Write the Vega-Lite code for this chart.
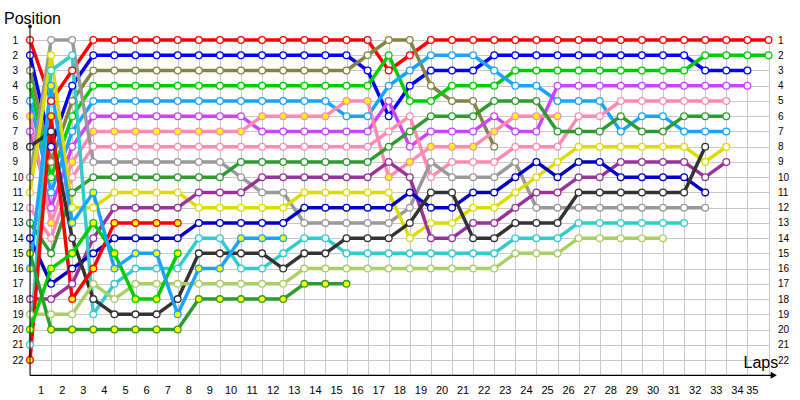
{
"$schema":"https://vega.github.io/schema/vega-lite/v6.json",
"width":738.5,"height":335.3,
"autosize":{"type":"none"},
"padding":{"left":30,"top":40,"right":31.5,"bottom":24.7},
"background":"white",
"title":{"text":"Position","anchor":"start","frame":"group","dx":-26,"dy":16,"offset":0,"baseline":"alphabetic","fontSize":16,"fontWeight":"normal","font":"Liberation Sans","color":"black"},
"config":{"view":{"stroke":null},"axis":{"labelFont":"Liberation Sans","titleFont":"Liberation Sans","labelColor":"black","titleColor":"black"}},
"data":{"values":[
{"d":"A","lap":0,"pos":1},{"d":"A","lap":1,"pos":5},{"d":"A","lap":2,"pos":3},{"d":"A","lap":3,"pos":1},{"d":"A","lap":4,"pos":1},{"d":"A","lap":5,"pos":1},{"d":"A","lap":6,"pos":1},{"d":"A","lap":7,"pos":1},{"d":"A","lap":8,"pos":1},{"d":"A","lap":9,"pos":1},{"d":"A","lap":10,"pos":1},{"d":"A","lap":11,"pos":1},{"d":"A","lap":12,"pos":1},{"d":"A","lap":13,"pos":1},{"d":"A","lap":14,"pos":1},{"d":"A","lap":15,"pos":1},{"d":"A","lap":16,"pos":1},{"d":"A","lap":17,"pos":3},{"d":"A","lap":18,"pos":2},{"d":"A","lap":19,"pos":1},{"d":"A","lap":20,"pos":1},{"d":"A","lap":21,"pos":1},{"d":"A","lap":22,"pos":1},{"d":"A","lap":23,"pos":1},{"d":"A","lap":24,"pos":1},{"d":"A","lap":25,"pos":1},{"d":"A","lap":26,"pos":1},{"d":"A","lap":27,"pos":1},{"d":"A","lap":28,"pos":1},{"d":"A","lap":29,"pos":1},{"d":"A","lap":30,"pos":1},{"d":"A","lap":31,"pos":1},{"d":"A","lap":32,"pos":1},{"d":"A","lap":33,"pos":1},{"d":"A","lap":34,"pos":1},{"d":"A","lap":35,"pos":1},
{"d":"B","lap":0,"pos":2},{"d":"B","lap":1,"pos":8},{"d":"B","lap":2,"pos":4},{"d":"B","lap":3,"pos":2},{"d":"B","lap":4,"pos":2},{"d":"B","lap":5,"pos":2},{"d":"B","lap":6,"pos":2},{"d":"B","lap":7,"pos":2},{"d":"B","lap":8,"pos":2},{"d":"B","lap":9,"pos":2},{"d":"B","lap":10,"pos":2},{"d":"B","lap":11,"pos":2},{"d":"B","lap":12,"pos":2},{"d":"B","lap":13,"pos":2},{"d":"B","lap":14,"pos":2},{"d":"B","lap":15,"pos":2},{"d":"B","lap":16,"pos":3},{"d":"B","lap":17,"pos":6},{"d":"B","lap":18,"pos":4},{"d":"B","lap":19,"pos":3},{"d":"B","lap":20,"pos":3},{"d":"B","lap":21,"pos":3},{"d":"B","lap":22,"pos":2},{"d":"B","lap":23,"pos":2},{"d":"B","lap":24,"pos":2},{"d":"B","lap":25,"pos":2},{"d":"B","lap":26,"pos":2},{"d":"B","lap":27,"pos":2},{"d":"B","lap":28,"pos":2},{"d":"B","lap":29,"pos":2},{"d":"B","lap":30,"pos":2},{"d":"B","lap":31,"pos":2},{"d":"B","lap":32,"pos":3},{"d":"B","lap":33,"pos":3},{"d":"B","lap":34,"pos":3},
{"d":"C","lap":0,"pos":3},{"d":"C","lap":1,"pos":9},{"d":"C","lap":2,"pos":5},{"d":"C","lap":3,"pos":3},{"d":"C","lap":4,"pos":3},{"d":"C","lap":5,"pos":3},{"d":"C","lap":6,"pos":3},{"d":"C","lap":7,"pos":3},{"d":"C","lap":8,"pos":3},{"d":"C","lap":9,"pos":3},{"d":"C","lap":10,"pos":3},{"d":"C","lap":11,"pos":3},{"d":"C","lap":12,"pos":3},{"d":"C","lap":13,"pos":3},{"d":"C","lap":14,"pos":3},{"d":"C","lap":15,"pos":3},{"d":"C","lap":16,"pos":2},{"d":"C","lap":17,"pos":1},{"d":"C","lap":18,"pos":1},{"d":"C","lap":19,"pos":4},{"d":"C","lap":20,"pos":5},{"d":"C","lap":21,"pos":5},{"d":"C","lap":22,"pos":8},
{"d":"D","lap":0,"pos":4},{"d":"D","lap":1,"pos":10},{"d":"D","lap":2,"pos":6},{"d":"D","lap":3,"pos":4},{"d":"D","lap":4,"pos":4},{"d":"D","lap":5,"pos":4},{"d":"D","lap":6,"pos":4},{"d":"D","lap":7,"pos":4},{"d":"D","lap":8,"pos":4},{"d":"D","lap":9,"pos":4},{"d":"D","lap":10,"pos":4},{"d":"D","lap":11,"pos":4},{"d":"D","lap":12,"pos":4},{"d":"D","lap":13,"pos":4},{"d":"D","lap":14,"pos":4},{"d":"D","lap":15,"pos":4},{"d":"D","lap":16,"pos":4},{"d":"D","lap":17,"pos":2},{"d":"D","lap":18,"pos":5},{"d":"D","lap":19,"pos":5},{"d":"D","lap":20,"pos":4},{"d":"D","lap":21,"pos":4},{"d":"D","lap":22,"pos":4},{"d":"D","lap":23,"pos":3},{"d":"D","lap":24,"pos":3},{"d":"D","lap":25,"pos":3},{"d":"D","lap":26,"pos":3},{"d":"D","lap":27,"pos":3},{"d":"D","lap":28,"pos":3},{"d":"D","lap":29,"pos":3},{"d":"D","lap":30,"pos":3},{"d":"D","lap":31,"pos":3},{"d":"D","lap":32,"pos":2},{"d":"D","lap":33,"pos":2},{"d":"D","lap":34,"pos":2},{"d":"D","lap":35,"pos":2},
{"d":"E","lap":0,"pos":5},{"d":"E","lap":1,"pos":11},{"d":"E","lap":2,"pos":7},{"d":"E","lap":3,"pos":5},{"d":"E","lap":4,"pos":5},{"d":"E","lap":5,"pos":5},{"d":"E","lap":6,"pos":5},{"d":"E","lap":7,"pos":5},{"d":"E","lap":8,"pos":5},{"d":"E","lap":9,"pos":5},{"d":"E","lap":10,"pos":5},{"d":"E","lap":11,"pos":5},{"d":"E","lap":12,"pos":5},{"d":"E","lap":13,"pos":5},{"d":"E","lap":14,"pos":5},{"d":"E","lap":15,"pos":6},{"d":"E","lap":16,"pos":6},{"d":"E","lap":17,"pos":4},{"d":"E","lap":18,"pos":3},{"d":"E","lap":19,"pos":2},{"d":"E","lap":20,"pos":2},{"d":"E","lap":21,"pos":2},{"d":"E","lap":22,"pos":3},{"d":"E","lap":23,"pos":4},{"d":"E","lap":24,"pos":4},{"d":"E","lap":25,"pos":5},{"d":"E","lap":26,"pos":5},{"d":"E","lap":27,"pos":5},{"d":"E","lap":28,"pos":7},{"d":"E","lap":29,"pos":6},{"d":"E","lap":30,"pos":6},{"d":"E","lap":31,"pos":7},{"d":"E","lap":32,"pos":7},{"d":"E","lap":33,"pos":7},
{"d":"F","lap":0,"pos":7},{"d":"F","lap":1,"pos":12},{"d":"F","lap":2,"pos":8},{"d":"F","lap":3,"pos":6},{"d":"F","lap":4,"pos":6},{"d":"F","lap":5,"pos":6},{"d":"F","lap":6,"pos":6},{"d":"F","lap":7,"pos":6},{"d":"F","lap":8,"pos":6},{"d":"F","lap":9,"pos":6},{"d":"F","lap":10,"pos":6},{"d":"F","lap":11,"pos":7},{"d":"F","lap":12,"pos":7},{"d":"F","lap":13,"pos":7},{"d":"F","lap":14,"pos":7},{"d":"F","lap":15,"pos":7},{"d":"F","lap":16,"pos":7},{"d":"F","lap":17,"pos":5},{"d":"F","lap":18,"pos":8},{"d":"F","lap":19,"pos":7},{"d":"F","lap":20,"pos":7},{"d":"F","lap":21,"pos":7},{"d":"F","lap":22,"pos":6},{"d":"F","lap":23,"pos":7},{"d":"F","lap":24,"pos":7},{"d":"F","lap":25,"pos":4},{"d":"F","lap":26,"pos":4},{"d":"F","lap":27,"pos":4},{"d":"F","lap":28,"pos":4},{"d":"F","lap":29,"pos":4},{"d":"F","lap":30,"pos":4},{"d":"F","lap":31,"pos":4},{"d":"F","lap":32,"pos":4},{"d":"F","lap":33,"pos":4},{"d":"F","lap":34,"pos":4},
{"d":"G","lap":0,"pos":6},{"d":"G","lap":1,"pos":13},{"d":"G","lap":2,"pos":9},{"d":"G","lap":3,"pos":7},{"d":"G","lap":4,"pos":7},{"d":"G","lap":5,"pos":7},{"d":"G","lap":6,"pos":7},{"d":"G","lap":7,"pos":7},{"d":"G","lap":8,"pos":7},{"d":"G","lap":9,"pos":7},{"d":"G","lap":10,"pos":7},{"d":"G","lap":11,"pos":6},{"d":"G","lap":12,"pos":6},{"d":"G","lap":13,"pos":6},{"d":"G","lap":14,"pos":6},{"d":"G","lap":15,"pos":5},{"d":"G","lap":16,"pos":5},{"d":"G","lap":17,"pos":10},{"d":"G","lap":18,"pos":9},{"d":"G","lap":19,"pos":8},{"d":"G","lap":20,"pos":8},{"d":"G","lap":21,"pos":8},{"d":"G","lap":22,"pos":7},{"d":"G","lap":23,"pos":6},{"d":"G","lap":24,"pos":6},{"d":"G","lap":25,"pos":6},
{"d":"H","lap":0,"pos":12},{"d":"H","lap":1,"pos":14},{"d":"H","lap":2,"pos":10},{"d":"H","lap":3,"pos":8},{"d":"H","lap":4,"pos":8},{"d":"H","lap":5,"pos":8},{"d":"H","lap":6,"pos":8},{"d":"H","lap":7,"pos":8},{"d":"H","lap":8,"pos":8},{"d":"H","lap":9,"pos":8},{"d":"H","lap":10,"pos":8},{"d":"H","lap":11,"pos":8},{"d":"H","lap":12,"pos":8},{"d":"H","lap":13,"pos":8},{"d":"H","lap":14,"pos":8},{"d":"H","lap":15,"pos":8},{"d":"H","lap":16,"pos":8},{"d":"H","lap":17,"pos":7},{"d":"H","lap":18,"pos":6},{"d":"H","lap":19,"pos":10},{"d":"H","lap":20,"pos":9},{"d":"H","lap":21,"pos":9},{"d":"H","lap":22,"pos":9},{"d":"H","lap":23,"pos":8},{"d":"H","lap":24,"pos":8},{"d":"H","lap":25,"pos":8},{"d":"H","lap":26,"pos":6},{"d":"H","lap":27,"pos":6},{"d":"H","lap":28,"pos":5},{"d":"H","lap":29,"pos":5},{"d":"H","lap":30,"pos":5},{"d":"H","lap":31,"pos":5},{"d":"H","lap":32,"pos":5},{"d":"H","lap":33,"pos":5},
{"d":"I","lap":0,"pos":10},{"d":"I","lap":1,"pos":1},{"d":"I","lap":2,"pos":1},{"d":"I","lap":3,"pos":9},{"d":"I","lap":4,"pos":9},{"d":"I","lap":5,"pos":9},{"d":"I","lap":6,"pos":9},{"d":"I","lap":7,"pos":9},{"d":"I","lap":8,"pos":9},{"d":"I","lap":9,"pos":9},{"d":"I","lap":10,"pos":10},{"d":"I","lap":11,"pos":11},{"d":"I","lap":12,"pos":11},{"d":"I","lap":13,"pos":13},{"d":"I","lap":14,"pos":13},{"d":"I","lap":15,"pos":13},{"d":"I","lap":16,"pos":13},{"d":"I","lap":17,"pos":13},{"d":"I","lap":18,"pos":12},{"d":"I","lap":19,"pos":9},{"d":"I","lap":20,"pos":10},{"d":"I","lap":21,"pos":10},{"d":"I","lap":22,"pos":10},{"d":"I","lap":23,"pos":9},{"d":"I","lap":24,"pos":12},{"d":"I","lap":25,"pos":12},{"d":"I","lap":26,"pos":12},{"d":"I","lap":27,"pos":12},{"d":"I","lap":28,"pos":12},{"d":"I","lap":29,"pos":12},{"d":"I","lap":30,"pos":12},{"d":"I","lap":31,"pos":12},{"d":"I","lap":32,"pos":12},
{"d":"J","lap":0,"pos":13},{"d":"J","lap":1,"pos":15},{"d":"J","lap":2,"pos":11},{"d":"J","lap":3,"pos":10},{"d":"J","lap":4,"pos":10},{"d":"J","lap":5,"pos":10},{"d":"J","lap":6,"pos":10},{"d":"J","lap":7,"pos":10},{"d":"J","lap":8,"pos":10},{"d":"J","lap":9,"pos":10},{"d":"J","lap":10,"pos":9},{"d":"J","lap":11,"pos":9},{"d":"J","lap":12,"pos":9},{"d":"J","lap":13,"pos":9},{"d":"J","lap":14,"pos":9},{"d":"J","lap":15,"pos":9},{"d":"J","lap":16,"pos":9},{"d":"J","lap":17,"pos":8},{"d":"J","lap":18,"pos":7},{"d":"J","lap":19,"pos":6},{"d":"J","lap":20,"pos":6},{"d":"J","lap":21,"pos":6},{"d":"J","lap":22,"pos":5},{"d":"J","lap":23,"pos":5},{"d":"J","lap":24,"pos":5},{"d":"J","lap":25,"pos":7},{"d":"J","lap":26,"pos":7},{"d":"J","lap":27,"pos":7},{"d":"J","lap":28,"pos":6},{"d":"J","lap":29,"pos":7},{"d":"J","lap":30,"pos":7},{"d":"J","lap":31,"pos":6},{"d":"J","lap":32,"pos":6},{"d":"J","lap":33,"pos":6},
{"d":"K","lap":0,"pos":11},{"d":"K","lap":1,"pos":2},{"d":"K","lap":2,"pos":12},{"d":"K","lap":3,"pos":12},{"d":"K","lap":4,"pos":11},{"d":"K","lap":5,"pos":11},{"d":"K","lap":6,"pos":11},{"d":"K","lap":7,"pos":11},{"d":"K","lap":8,"pos":12},{"d":"K","lap":9,"pos":12},{"d":"K","lap":10,"pos":12},{"d":"K","lap":11,"pos":12},{"d":"K","lap":12,"pos":12},{"d":"K","lap":13,"pos":11},{"d":"K","lap":14,"pos":11},{"d":"K","lap":15,"pos":11},{"d":"K","lap":16,"pos":11},{"d":"K","lap":17,"pos":11},{"d":"K","lap":18,"pos":14},{"d":"K","lap":19,"pos":13},{"d":"K","lap":20,"pos":13},{"d":"K","lap":21,"pos":12},{"d":"K","lap":22,"pos":12},{"d":"K","lap":23,"pos":11},{"d":"K","lap":24,"pos":10},{"d":"K","lap":25,"pos":9},{"d":"K","lap":26,"pos":8},{"d":"K","lap":27,"pos":8},{"d":"K","lap":28,"pos":8},{"d":"K","lap":29,"pos":8},{"d":"K","lap":30,"pos":8},{"d":"K","lap":31,"pos":8},{"d":"K","lap":32,"pos":9},{"d":"K","lap":33,"pos":8},
{"d":"L","lap":0,"pos":18},{"d":"L","lap":1,"pos":18},{"d":"L","lap":2,"pos":17},{"d":"L","lap":3,"pos":14},{"d":"L","lap":4,"pos":12},{"d":"L","lap":5,"pos":12},{"d":"L","lap":6,"pos":12},{"d":"L","lap":7,"pos":12},{"d":"L","lap":8,"pos":11},{"d":"L","lap":9,"pos":11},{"d":"L","lap":10,"pos":11},{"d":"L","lap":11,"pos":10},{"d":"L","lap":12,"pos":10},{"d":"L","lap":13,"pos":10},{"d":"L","lap":14,"pos":10},{"d":"L","lap":15,"pos":10},{"d":"L","lap":16,"pos":10},{"d":"L","lap":17,"pos":9},{"d":"L","lap":18,"pos":10},{"d":"L","lap":19,"pos":14},{"d":"L","lap":20,"pos":14},{"d":"L","lap":21,"pos":13},{"d":"L","lap":22,"pos":13},{"d":"L","lap":23,"pos":12},{"d":"L","lap":24,"pos":11},{"d":"L","lap":25,"pos":11},{"d":"L","lap":26,"pos":10},{"d":"L","lap":27,"pos":10},{"d":"L","lap":28,"pos":9},{"d":"L","lap":29,"pos":9},{"d":"L","lap":30,"pos":9},{"d":"L","lap":31,"pos":9},{"d":"L","lap":32,"pos":10},{"d":"L","lap":33,"pos":9},
{"d":"M","lap":0,"pos":14},{"d":"M","lap":1,"pos":17},{"d":"M","lap":2,"pos":16},{"d":"M","lap":3,"pos":15},{"d":"M","lap":4,"pos":14},{"d":"M","lap":5,"pos":14},{"d":"M","lap":6,"pos":14},{"d":"M","lap":7,"pos":14},{"d":"M","lap":8,"pos":13},{"d":"M","lap":9,"pos":13},{"d":"M","lap":10,"pos":13},{"d":"M","lap":11,"pos":13},{"d":"M","lap":12,"pos":13},{"d":"M","lap":13,"pos":12},{"d":"M","lap":14,"pos":12},{"d":"M","lap":15,"pos":12},{"d":"M","lap":16,"pos":12},{"d":"M","lap":17,"pos":12},{"d":"M","lap":18,"pos":11},{"d":"M","lap":19,"pos":12},{"d":"M","lap":20,"pos":12},{"d":"M","lap":21,"pos":11},{"d":"M","lap":22,"pos":11},{"d":"M","lap":23,"pos":10},{"d":"M","lap":24,"pos":9},{"d":"M","lap":25,"pos":10},{"d":"M","lap":26,"pos":9},{"d":"M","lap":27,"pos":9},{"d":"M","lap":28,"pos":10},{"d":"M","lap":29,"pos":10},{"d":"M","lap":30,"pos":10},{"d":"M","lap":31,"pos":10},{"d":"M","lap":32,"pos":11},
{"d":"N","lap":0,"pos":21},{"d":"N","lap":1,"pos":3},{"d":"N","lap":2,"pos":2},{"d":"N","lap":3,"pos":19},{"d":"N","lap":4,"pos":17},{"d":"N","lap":5,"pos":16},{"d":"N","lap":6,"pos":16},{"d":"N","lap":7,"pos":16},{"d":"N","lap":8,"pos":14},{"d":"N","lap":9,"pos":14},{"d":"N","lap":10,"pos":16},{"d":"N","lap":11,"pos":16},{"d":"N","lap":12,"pos":15},{"d":"N","lap":13,"pos":14},{"d":"N","lap":14,"pos":14},{"d":"N","lap":15,"pos":15},{"d":"N","lap":16,"pos":15},{"d":"N","lap":17,"pos":15},{"d":"N","lap":18,"pos":15},{"d":"N","lap":19,"pos":15},{"d":"N","lap":20,"pos":15},{"d":"N","lap":21,"pos":15},{"d":"N","lap":22,"pos":15},{"d":"N","lap":23,"pos":14},{"d":"N","lap":24,"pos":14},{"d":"N","lap":25,"pos":14},{"d":"N","lap":26,"pos":13},{"d":"N","lap":27,"pos":13},{"d":"N","lap":28,"pos":13},{"d":"N","lap":29,"pos":13},{"d":"N","lap":30,"pos":13},{"d":"N","lap":31,"pos":13},
{"d":"O","lap":0,"pos":8},{"d":"O","lap":1,"pos":7},{"d":"O","lap":2,"pos":14},{"d":"O","lap":3,"pos":18},{"d":"O","lap":4,"pos":19},{"d":"O","lap":5,"pos":19},{"d":"O","lap":6,"pos":19},{"d":"O","lap":7,"pos":18},{"d":"O","lap":8,"pos":15},{"d":"O","lap":9,"pos":15},{"d":"O","lap":10,"pos":15},{"d":"O","lap":11,"pos":15},{"d":"O","lap":12,"pos":16},{"d":"O","lap":13,"pos":15},{"d":"O","lap":14,"pos":15},{"d":"O","lap":15,"pos":14},{"d":"O","lap":16,"pos":14},{"d":"O","lap":17,"pos":14},{"d":"O","lap":18,"pos":13},{"d":"O","lap":19,"pos":11},{"d":"O","lap":20,"pos":11},{"d":"O","lap":21,"pos":14},{"d":"O","lap":22,"pos":14},{"d":"O","lap":23,"pos":13},{"d":"O","lap":24,"pos":13},{"d":"O","lap":25,"pos":13},{"d":"O","lap":26,"pos":11},{"d":"O","lap":27,"pos":11},{"d":"O","lap":28,"pos":11},{"d":"O","lap":29,"pos":11},{"d":"O","lap":30,"pos":11},{"d":"O","lap":31,"pos":11},{"d":"O","lap":32,"pos":8},
{"d":"P","lap":0,"pos":19},{"d":"P","lap":1,"pos":19},{"d":"P","lap":2,"pos":19},{"d":"P","lap":3,"pos":17},{"d":"P","lap":4,"pos":18},{"d":"P","lap":5,"pos":17},{"d":"P","lap":6,"pos":17},{"d":"P","lap":7,"pos":17},{"d":"P","lap":8,"pos":17},{"d":"P","lap":9,"pos":17},{"d":"P","lap":10,"pos":17},{"d":"P","lap":11,"pos":17},{"d":"P","lap":12,"pos":17},{"d":"P","lap":13,"pos":16},{"d":"P","lap":14,"pos":16},{"d":"P","lap":15,"pos":16},{"d":"P","lap":16,"pos":16},{"d":"P","lap":17,"pos":16},{"d":"P","lap":18,"pos":16},{"d":"P","lap":19,"pos":16},{"d":"P","lap":20,"pos":16},{"d":"P","lap":21,"pos":16},{"d":"P","lap":22,"pos":16},{"d":"P","lap":23,"pos":15},{"d":"P","lap":24,"pos":15},{"d":"P","lap":25,"pos":15},{"d":"P","lap":26,"pos":14},{"d":"P","lap":27,"pos":14},{"d":"P","lap":28,"pos":14},{"d":"P","lap":29,"pos":14},{"d":"P","lap":30,"pos":14},
{"d":"Q","lap":0,"pos":22},{"d":"Q","lap":1,"pos":6},{"d":"Q","lap":2,"pos":18},{"d":"Q","lap":3,"pos":16},{"d":"Q","lap":4,"pos":13},{"d":"Q","lap":5,"pos":13},{"d":"Q","lap":6,"pos":13},{"d":"Q","lap":7,"pos":13},
{"d":"R","lap":0,"pos":20},{"d":"R","lap":1,"pos":16},{"d":"R","lap":2,"pos":15},{"d":"R","lap":3,"pos":13},{"d":"R","lap":4,"pos":15},{"d":"R","lap":5,"pos":18},{"d":"R","lap":6,"pos":18},{"d":"R","lap":7,"pos":15},
{"d":"S","lap":0,"pos":16},{"d":"S","lap":1,"pos":4},{"d":"S","lap":2,"pos":13},{"d":"S","lap":3,"pos":11},{"d":"S","lap":4,"pos":16},{"d":"S","lap":5,"pos":15},{"d":"S","lap":6,"pos":15},{"d":"S","lap":7,"pos":19},{"d":"S","lap":8,"pos":16},{"d":"S","lap":9,"pos":16},{"d":"S","lap":10,"pos":14},{"d":"S","lap":11,"pos":14},{"d":"S","lap":12,"pos":14},
{"d":"T","lap":0,"pos":15},{"d":"T","lap":1,"pos":20},{"d":"T","lap":2,"pos":20},{"d":"T","lap":3,"pos":20},{"d":"T","lap":4,"pos":20},{"d":"T","lap":5,"pos":20},{"d":"T","lap":6,"pos":20},{"d":"T","lap":7,"pos":20},{"d":"T","lap":8,"pos":18},{"d":"T","lap":9,"pos":18},{"d":"T","lap":10,"pos":18},{"d":"T","lap":11,"pos":18},{"d":"T","lap":12,"pos":18},{"d":"T","lap":13,"pos":17},{"d":"T","lap":14,"pos":17},{"d":"T","lap":15,"pos":17}
]},
"resolve":{"axis":{"x":"independent","y":"independent"}},
"layer":[
{"mark":{"type":"line","strokeWidth":3.5,"strokeJoin":"round","strokeCap":"round"},
 "encoding":{
  "x":{"field":"lap","type":"quantitative","scale":{"domain":[0,35],"nice":false,"zero":false},
   "axis":{"orient":"bottom","values":[0,1,2,3,4,5,6,7,8,9,10,11,12,13,14,15,16,17,18,19,20,21,22,23,24,25,26,27,28,29,30,31,32,33,34,35],"grid":true,"gridColor":"#C8C8C8","gridWidth":1,"domain":false,"ticks":false,"labelOffset":-10.5,"labelPadding":9,"labelFontSize":11,"labelExpr":"datum.value==0?'':datum.label","title":"Laps","titleX":713,"titleY":-8,"titleAlign":"left","titleBaseline":"alphabetic","titleFontSize":16,"titleFontWeight":"normal"}},
  "y":{"field":"pos","type":"quantitative","scale":{"domain":[1,23],"reverse":true,"nice":false,"zero":false},
   "axis":{"orient":"left","values":[1,2,3,4,5,6,7,8,9,10,11,12,13,14,15,16,17,18,19,20,21,22],"grid":true,"gridColor":"#C8C8C8","gridWidth":1,"domain":false,"ticks":false,"labelAlign":"left","labelBaseline":"middle","labelPadding":18,"labelFontSize":10,"title":null}},
  "stroke":{"field":"d","type":"nominal","legend":null,"scale":{"domain":["A","B","C","D","E","F","G","H","I","J","K","L","M","N","O","P","Q","R","S","T"],"range":["#FF0000","#0000FF","#848446","#00CC00","#1AA3FF","#CC44FF","#FF8CB0","#FF8CB0","#999999","#2E9B2E","#DCDC00","#993399","#0000C0","#33CCCC","#333333","#AACF66","#FF0000","#00CC00","#1AA3FF","#2E9B2E"]}},
  "order":{"field":"lap","type":"quantitative"}}},
{"mark":{"type":"point","shape":"circle","filled":true,"size":45,"strokeWidth":1.3,"opacity":1},
 "encoding":{
  "x":{"field":"lap","type":"quantitative","axis":null},
  "y":{"field":"pos","type":"quantitative","axis":{"orient":"right","values":[1,2,3,4,5,6,7,8,9,10,11,12,13,14,15,16,17,18,19,20,21,22],"grid":false,"domain":false,"ticks":false,"labelAlign":"left","labelBaseline":"middle","labelPadding":9,"labelFontSize":10,"title":null}},
  "stroke":{"field":"d","type":"nominal","legend":null},
  "fill":{"field":"d","type":"nominal","legend":null,"scale":{"domain":["A","B","C","D","E","F","G","H","I","J","K","L","M","N","O","P","Q","R","S","T"],"range":["#FFFFFF","#FFFFFF","#FFFFFF","#FFFFFF","#FFFFFF","#FFFFFF","#FFFF00","#FFFFFF","#FFFFFF","#FFFFFF","#FFFFFF","#FFFFFF","#FFFFFF","#FFFFFF","#FFFFFF","#FFFFFF","#FFFF00","#FFFF00","#FFFF00","#FFFF00"]}}}},
{"data":{"values":[{}]},"mark":{"type":"rule","color":"black","strokeWidth":1},
 "encoding":{"x":{"datum":0,"type":"quantitative","axis":null},"y":{"datum":0.1,"type":"quantitative","axis":null},"y2":{"datum":23}}},
{"data":{"values":[{}]},"mark":{"type":"rule","color":"black","strokeWidth":1.2},
 "encoding":{"x":{"datum":0,"type":"quantitative","axis":null},"x2":{"datum":35.3},"y":{"datum":23,"type":"quantitative","axis":null}}},
{"data":{"values":[{}]},"mark":{"type":"point","shape":"circle","filled":true,"color":"black","size":14,"opacity":1},
 "encoding":{"x":{"datum":0,"type":"quantitative","axis":null},"y":{"datum":0.1,"type":"quantitative","axis":null}}},
{"data":{"values":[{}]},"mark":{"type":"point","shape":"triangle-right","filled":true,"color":"black","size":50,"opacity":1},
 "encoding":{"x":{"datum":35.25,"type":"quantitative","axis":null},"y":{"datum":23,"type":"quantitative","axis":null}}}
]
}
